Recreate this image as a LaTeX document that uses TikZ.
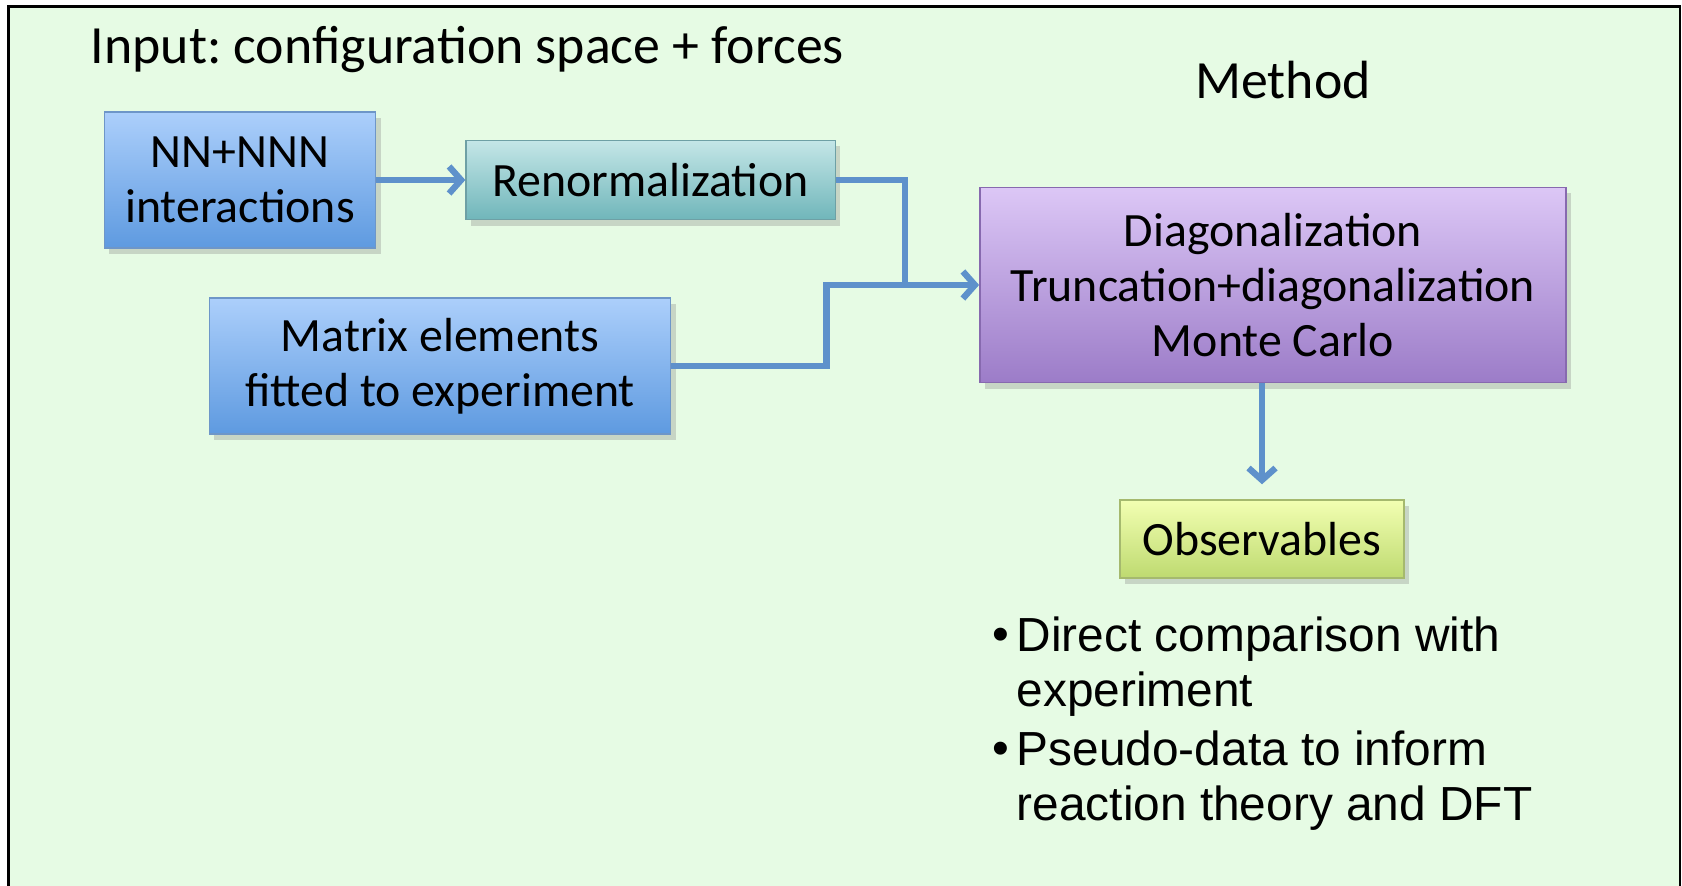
\documentclass[tikz,border=0pt]{standalone}
\usepackage{fontspec}
\setmainfont{Carlito}
\newfontfamily\notefont{Liberation Sans}
\usepackage{tikz}
\usetikzlibrary{arrows.meta,positioning,shadows,calc}
\frenchspacing

\definecolor{paneBg}{RGB}{230,251,228}
\definecolor{flowBlue}{RGB}{94,145,203}
\definecolor{blueTop}{RGB}{172,207,251}
\definecolor{blueBot}{RGB}{94,154,224}
\definecolor{blueEdge}{RGB}{110,150,200}
\definecolor{tealTop}{RGB}{196,230,231}
\definecolor{tealBot}{RGB}{112,182,186}
\definecolor{tealEdge}{RGB}{110,160,165}
\definecolor{violetTop}{RGB}{220,199,246}
\definecolor{violetBot}{RGB}{156,124,200}
\definecolor{violetEdge}{RGB}{135,105,175}
\definecolor{limeTop}{RGB}{242,255,178}
\definecolor{limeBot}{RGB}{190,218,112}
\definecolor{limeEdge}{RGB}{165,185,110}

\begin{document}
\begin{tikzpicture}[
  x=0.01cm, y=-0.01cm,
  font=\fontsize{13.6}{15.7}\selectfont,
  stage/.style={draw=#1Edge, top color=#1Top, bottom color=#1Bot, align=center, inner sep=0pt,
    drop shadow={shadow xshift=0.05cm, shadow yshift=-0.06cm, opacity=0.3}},
  head/.style={font=\fontsize{15.3}{18}\selectfont, inner sep=0pt},
  note/.style={font=\notefont\fontsize{13.6}{15.9}\selectfont, align=left, inner sep=0pt},
  flow/.style={draw=flowBlue, line width=1.8pt},
  arr/.style={flow, -{Straight Barb[length=0.12cm, width=0.27cm]}}
]
\clip (0,0) rectangle (1682,886);
\useasboundingbox (0,0) rectangle (1682,886);
\draw[fill=paneBg, line width=0.7pt] (8.5,6.5) rectangle (1680,900);

% headings
\node[head, anchor=west] (input) at (90,50) {Input: configuration space + forces};
\node[head] (method) at (1283,80) {Method};

% boxes
\node[stage=blue, minimum width=2.71cm, minimum height=1.36cm] (nn) at (240,180) {NN+NNN\\interactions};
\node[stage=teal, minimum width=3.69cm, minimum height=0.79cm, right=0.89cm of nn] (renorm) {Renormalization};
\node[stage=blue, minimum width=4.61cm, minimum height=1.36cm] (matrix) at (440,366) {Matrix elements\\fitted to experiment};
\node[stage=violet, minimum width=5.86cm, minimum height=1.95cm] (diag) at (1273,285) {Diagonalization\\Truncation+diagonalization\\Monte Carlo};
\node[stage=lime, minimum width=2.84cm, minimum height=0.78cm] (obs) at (1262,539) {Observables};

% connectors
\coordinate (join) at ($(diag.west)+(-0.74cm,0)$);
\draw[arr] (nn.east) -- (renorm.west);
\draw[flow] (renorm.east) -| (join);
\draw[flow] (matrix.east) -- ++(1.55cm,0) |- (join);
\draw[arr] (join) -- (diag.west);
\draw[arr, shorten >=0.15cm] (diag.south -| obs.north) -- (obs.north);

% notes under the observables (base = last line)
\node[note, anchor=base] (dot1) at (1001,651) {\textbullet};
\node[note, anchor=base west] (item1) at (1016,707) {Direct comparison with\\experiment};
\node[note, anchor=base] (dot2) at (1001,765) {\textbullet};
\node[note, anchor=base west] (item2) at (1016,821) {Pseudo-data to inform\\reaction theory and DFT};
\end{tikzpicture}
\end{document}
